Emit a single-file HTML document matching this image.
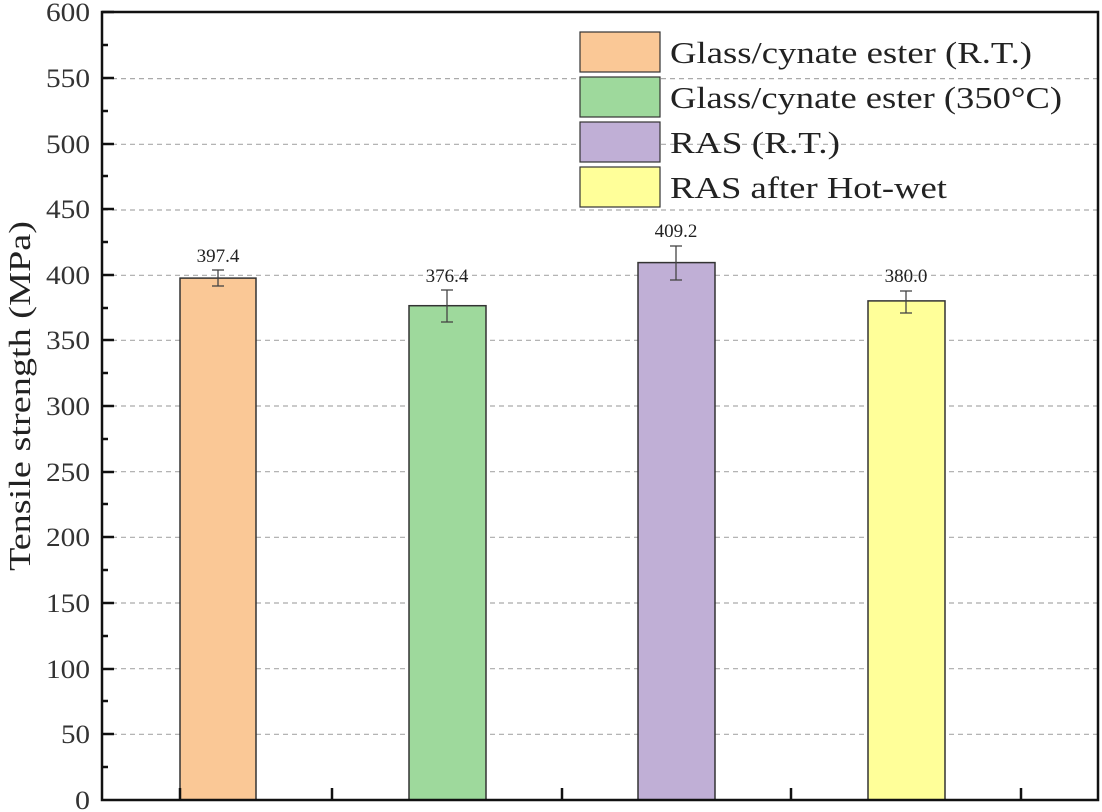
<!DOCTYPE html>
<html><head><style>body{margin:0;background:#fff}svg{display:block}</style></head><body>
<svg width="1102" height="812" xmlns="http://www.w3.org/2000/svg" font-family="Liberation Serif, serif">
<rect width="1102" height="812" fill="#fff"/>
<g stroke="#aaa" stroke-dasharray="5,4" stroke-width="1.2">
<line x1="103" x2="1097" y1="78.6" y2="78.6"/><line x1="103" x2="1097" y1="144.3" y2="144.3"/>
<line x1="103" x2="1097" y1="210" y2="210"/><line x1="103" x2="1097" y1="275.3" y2="275.3"/>
<line x1="103" x2="1097" y1="340.3" y2="340.3"/><line x1="103" x2="1097" y1="406" y2="406"/>
<line x1="103" x2="1097" y1="471.7" y2="471.7"/><line x1="103" x2="1097" y1="537.3" y2="537.3"/>
<line x1="103" x2="1097" y1="603" y2="603"/><line x1="103" x2="1097" y1="668.7" y2="668.7"/>
<line x1="103" x2="1097" y1="734.3" y2="734.3"/>
</g>
<g stroke="#333" stroke-width="1.5">
<rect x="180" y="278.1" width="76" height="521.9" fill="#fac896"/>
<rect x="409" y="305.7" width="77" height="494.3" fill="#9ed99c"/>
<rect x="638" y="262.6" width="77" height="537.4" fill="#c0afd6"/>
<rect x="868" y="300.9" width="77" height="499.1" fill="#ffff99"/>
</g>
<g stroke="#444" stroke-width="1.3">
<line x1="218" x2="218" y1="270" y2="286"/><line x1="212" x2="224" y1="270" y2="270"/><line x1="212" x2="224" y1="286" y2="286"/>
<line x1="447" x2="447" y1="290" y2="322"/><line x1="441" x2="453" y1="290" y2="290"/><line x1="441" x2="453" y1="322" y2="322"/>
<line x1="676" x2="676" y1="246" y2="280"/><line x1="670" x2="682" y1="246" y2="246"/><line x1="670" x2="682" y1="280" y2="280"/>
<line x1="906" x2="906" y1="291" y2="313"/><line x1="900" x2="912" y1="291" y2="291"/><line x1="900" x2="912" y1="313" y2="313"/>
</g>
<g font-size="19" text-anchor="middle" fill="#222">
<text x="218" y="262">397.4</text><text x="447" y="282">376.4</text><text x="676" y="237">409.2</text><text x="906" y="282">380.0</text>
</g>
<rect x="102" y="12" width="996" height="788" fill="none" stroke="#111" stroke-width="2.5"/>
<g stroke="#111" stroke-width="2.5">
<line x1="102" x2="114" y1="12" y2="12"/><line x1="102" x2="114" y1="78" y2="78"/><line x1="102" x2="114" y1="144" y2="144"/>
<line x1="102" x2="114" y1="209" y2="209"/><line x1="102" x2="114" y1="275" y2="275"/><line x1="102" x2="114" y1="340" y2="340"/>
<line x1="102" x2="114" y1="406" y2="406"/><line x1="102" x2="114" y1="472" y2="472"/><line x1="102" x2="114" y1="537" y2="537"/>
<line x1="102" x2="114" y1="603" y2="603"/><line x1="102" x2="114" y1="669" y2="669"/><line x1="102" x2="114" y1="734" y2="734"/>
<line x1="102" x2="108" y1="45" y2="45"/><line x1="102" x2="108" y1="111" y2="111"/><line x1="102" x2="108" y1="176" y2="176"/>
<line x1="102" x2="108" y1="242" y2="242"/><line x1="102" x2="108" y1="308" y2="308"/><line x1="102" x2="108" y1="373" y2="373"/>
<line x1="102" x2="108" y1="439" y2="439"/><line x1="102" x2="108" y1="504" y2="504"/><line x1="102" x2="108" y1="570" y2="570"/>
<line x1="102" x2="108" y1="636" y2="636"/><line x1="102" x2="108" y1="701" y2="701"/><line x1="102" x2="108" y1="767" y2="767"/>
<line x1="180" x2="180" y1="800" y2="788"/><line x1="332" x2="332" y1="800" y2="788"/><line x1="562" x2="562" y1="800" y2="788"/><line x1="791" x2="791" y1="800" y2="788"/><line x1="1021" x2="1021" y1="800" y2="788"/>
</g>
<g font-size="26" text-anchor="end" fill="#333" lengthAdjust="spacingAndGlyphs">
<text x="90" y="21" textLength="44" lengthAdjust="spacingAndGlyphs">600</text><text x="90" y="87" textLength="44" lengthAdjust="spacingAndGlyphs">550</text><text x="90" y="153" textLength="44" lengthAdjust="spacingAndGlyphs">500</text><text x="90" y="218" textLength="44" lengthAdjust="spacingAndGlyphs">450</text>
<text x="90" y="284" textLength="44" lengthAdjust="spacingAndGlyphs">400</text><text x="90" y="349" textLength="44" lengthAdjust="spacingAndGlyphs">350</text><text x="90" y="415" textLength="44" lengthAdjust="spacingAndGlyphs">300</text><text x="90" y="481" textLength="44" lengthAdjust="spacingAndGlyphs">250</text>
<text x="90" y="546" textLength="44" lengthAdjust="spacingAndGlyphs">200</text><text x="90" y="612" textLength="44" lengthAdjust="spacingAndGlyphs">150</text><text x="90" y="678" textLength="44" lengthAdjust="spacingAndGlyphs">100</text><text x="90" y="743" textLength="29" lengthAdjust="spacingAndGlyphs">50</text><text x="90" y="809" textLength="15" lengthAdjust="spacingAndGlyphs">0</text>
</g>
<text transform="translate(30,396) rotate(-90)" font-size="31" text-anchor="middle" fill="#222" textLength="350" lengthAdjust="spacingAndGlyphs">Tensile strength (MPa)</text>
<g stroke="#333" stroke-width="1.2">
<rect x="580" y="32" width="80" height="40" fill="#fac896"/>
<rect x="580" y="77" width="80" height="40" fill="#9ed99c"/>
<rect x="580" y="122" width="80" height="40" fill="#c0afd6"/>
<rect x="580" y="167" width="80" height="40" fill="#ffff99"/>
</g>
<g font-size="31" fill="#222">
<text x="670" y="63" textLength="362" lengthAdjust="spacingAndGlyphs">Glass/cynate ester (R.T.)</text>
<text x="670" y="108" textLength="392" lengthAdjust="spacingAndGlyphs">Glass/cynate ester (350°C)</text>
<text x="670" y="153" textLength="170" lengthAdjust="spacingAndGlyphs">RAS (R.T.)</text>
<text x="670" y="198" textLength="277" lengthAdjust="spacingAndGlyphs">RAS after Hot-wet</text>
</g>
</svg>
</body></html>
